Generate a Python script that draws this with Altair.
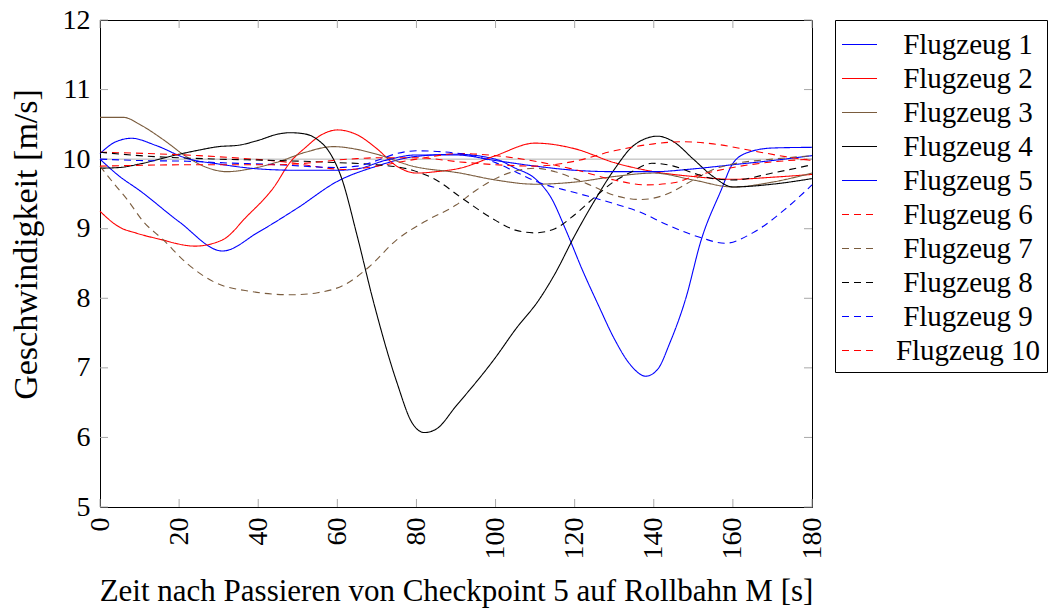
import altair as alt
import pandas as pd

names = [f"Flugzeug {i}" for i in range(1, 11)]
colors = ["#0000ff", "#ff0000", "#7a5c3e", "#000000", "#0000ff",
          "#ff0000", "#7a5c3e", "#000000", "#0000ff", "#ff0000"]
dashes = [[1, 0]] * 5 + [[7, 5]] * 5

# Flugzeug 1 (blue, dips at 30 s and 138 s)
f1_t = [0, 5, 10, 20, 31, 40, 50, 60, 70, 80, 90, 100, 105, 110, 114, 118, 122, 126, 130, 134,
        138, 141, 144, 148, 152, 157, 160, 164, 170, 180]
f1_v = [10.0, 9.75, 9.55, 9.1, 8.68, 8.95, 9.3, 9.68, 9.9, 10.04, 10.07, 10.0, 9.87, 9.72, 9.45, 8.95,
        8.4, 7.9, 7.42, 7.05, 6.88, 6.98, 7.35, 7.98, 8.84, 9.55, 9.94, 10.1, 10.16, 10.17]
# Flugzeug 2 (red)
f2_t = [0, 5, 9, 15, 24, 31, 37, 44, 48, 52, 56, 60, 65, 70, 75, 80, 85, 91, 100, 110, 120, 130,
        140, 150, 160, 170, 180]
f2_v = [9.25, 9.02, 8.94, 8.85, 8.75, 8.84, 9.17, 9.6, 9.95, 10.17, 10.35, 10.42, 10.35, 10.15, 9.9,
        9.8, 9.82, 9.87, 10.05, 10.23, 10.15, 9.95, 9.82, 9.75, 9.71, 9.74, 9.78]
# Flugzeug 3 (brown)
f3_t = [0, 6, 10, 16, 22, 27, 32, 38, 45, 52, 59, 65, 70, 79, 91, 100, 110, 120, 130, 140, 150,
        160, 170, 180]
f3_v = [10.6, 10.6, 10.5, 10.28, 10.03, 9.88, 9.82, 9.86, 9.96, 10.1, 10.18, 10.14, 10.07, 9.9, 9.8,
        9.7, 9.64, 9.67, 9.75, 9.8, 9.7, 9.6, 9.67, 9.8]
# Flugzeug 4 (black)
f4_t = [0, 5, 10, 20, 25, 30, 35, 40, 45, 48, 52, 55, 58, 61, 65, 69, 75, 79, 82, 85, 90, 100, 105,
        111, 115, 120, 125, 130, 135, 141, 145, 150, 155, 160, 170, 180]
f4_v = [9.87, 9.88, 9.93, 10.07, 10.13, 10.18, 10.2, 10.27, 10.36, 10.38, 10.36, 10.28, 10.1, 9.74,
        8.9, 7.98, 6.8, 6.2, 6.07, 6.12, 6.45, 7.15, 7.55, 7.98, 8.35, 8.9, 9.4, 9.85, 10.2, 10.33,
        10.25, 10.0, 9.75, 9.6, 9.64, 9.72]
# Flugzeug 5 (blue)
f5_t = [0, 4, 8, 14, 22, 30, 40, 50, 60, 65, 72, 80, 90, 100, 110, 120, 130, 140, 150, 160, 170, 180]
f5_v = [10.08, 10.25, 10.3, 10.2, 10.01, 9.93, 9.86, 9.84, 9.84, 9.86, 9.98, 10.06, 10.06, 9.98, 9.9,
        9.84, 9.82, 9.82, 9.86, 9.92, 9.98, 10.05]
# Flugzeug 6 (red dashed)
f6_t = [0, 25, 45, 63, 70, 80, 91, 100, 110, 120, 130, 138, 145, 150, 160, 170, 180]
f6_v = [10.1, 10.05, 9.97, 9.85, 9.9, 10.0, 10.08, 10.05, 9.97, 9.85, 9.7, 9.63, 9.66, 9.75, 9.88,
        9.96, 10.0]
# Flugzeug 7 (brown dashed)
f7_t = [0, 3.5, 7, 11, 16, 22, 29, 38, 48.5, 55, 62, 68, 75, 82, 90, 95, 100, 105, 110, 115, 120,
        125, 130, 137, 142, 150, 155, 160, 170, 180]
f7_v = [9.9, 9.65, 9.41, 9.1, 8.84, 8.5, 8.23, 8.1, 8.05, 8.08, 8.2, 8.45, 8.84, 9.1, 9.34, 9.55,
        9.72, 9.83, 9.87, 9.82, 9.72, 9.6, 9.48, 9.42, 9.47, 9.7, 9.85, 9.93, 10.0, 10.05]
# Flugzeug 8 (black dashed)
f8_t = [0, 10, 20, 30, 45, 60, 70, 79, 85, 91, 100, 105, 110, 115, 120, 125, 130, 134.5, 139.5, 145,
        150, 155, 160, 170, 180]
f8_v = [10.1, 10.05, 10.02, 10.0, 9.98, 9.95, 9.92, 9.84, 9.7, 9.46, 9.12, 8.98, 8.94, 9.0, 9.2, 9.45,
        9.68, 9.82, 9.94, 9.9, 9.8, 9.72, 9.7, 9.8, 9.92]
# Flugzeug 9 (blue dashed)
f9_t = [0, 10, 22, 30, 45, 60, 65, 70, 75, 80, 91, 100, 105, 110.7, 120, 130, 136.5, 143.6, 152, 158,
        165, 173, 180]
f9_v = [10.0, 9.98, 9.97, 9.95, 9.92, 9.88, 9.9, 9.98, 10.08, 10.12, 10.08, 9.95, 9.82, 9.67, 9.52,
        9.36, 9.24, 9.05, 8.87, 8.79, 8.94, 9.27, 9.63]
# Flugzeug 10 (red dashed)
f10_t = [0, 25, 45, 63, 70, 80, 91, 100, 110, 120, 130, 140, 147, 155, 165, 175, 180]
f10_v = [9.9, 9.92, 9.92, 10.0, 10.02, 10.02, 9.96, 9.92, 9.9, 9.97, 10.12, 10.22, 10.25, 10.22,
         10.12, 10.02, 9.98]

x_ticks = list(range(0, 181, 20))
y_ticks = list(range(5, 13))
grid_y = [10]

series_t = [f1_t, f2_t, f3_t, f4_t, f5_t, f6_t, f7_t, f8_t, f9_t, f10_t]
series_v = [f1_v, f2_v, f3_v, f4_v, f5_v, f6_v, f7_v, f8_v, f9_v, f10_v]

rows = []
for name, ts, vs in zip(names, series_t, series_v):
    for t, v in zip(ts, vs):
        rows.append({"Flugzeug": name, "t": t, "v": v})
df = pd.DataFrame(rows)

W, H = 712, 487
FONT = "Liberation Serif"

legend = alt.Legend(
    title=None, orient="none", legendX=735, legendY=0,
    symbolType="stroke", symbolSize=1225, symbolStrokeWidth=1.1,
    labelFont=FONT, labelFontSize=29, labelColor="black",
    labelAlign="center", labelOffset=90, rowPadding=0, padding=6,
    strokeColor="black", fillColor="white", cornerRadius=0, labelLimit=300,
)

xscale = alt.Scale(domain=[0, 180], nice=False, zero=False)
yscale = alt.Scale(domain=[5, 12], nice=False, zero=False)

xaxis = alt.Axis(
    values=x_ticks, title="Zeit nach Passieren von Checkpoint 5 auf Rollbahn M [s]",
    labelAngle=-90, labelAlign="right", labelBaseline="middle", labelPadding=10,
    labelFont=FONT, labelFontSize=28, labelColor="black",
    titleFont=FONT, titleFontSize=31, titleFontWeight="normal", titleColor="black",
    titleX=356, titleY=93, titleBaseline="alphabetic", titleAlign="center",
    ticks=False, domain=False, grid=False, labelFlush=False, labelOverlap=False)
yaxis = alt.Axis(
    values=y_ticks, title="Geschwindigkeit [m/s]",
    labelPadding=10, labelFont=FONT, labelFontSize=28, labelColor="black",
    labelBaseline="middle",
    titleFont=FONT, titleFontSize=34, titleFontWeight="normal", titleColor="black",
    titleX=-74, titleY=224, titleAngle=-90, titleBaseline="middle", titleAlign="center",
    ticks=False, domain=False, grid=False, labelFlush=False, labelOverlap=False)

grid = alt.Chart(pd.DataFrame({"t": [0], "v": grid_y})).mark_rule(color="#b0b0b0", strokeWidth=1).encode(
    y=alt.Y("v:Q", scale=yscale, axis=yaxis)
)

lines = alt.Chart(df).mark_line(strokeWidth=1.1, interpolate="monotone").encode(
    x=alt.X("t:Q", scale=xscale, axis=xaxis),
    y=alt.Y("v:Q", scale=yscale, axis=yaxis),
    color=alt.Color("Flugzeug:N", scale=alt.Scale(domain=names, range=colors), legend=legend,
                    sort=names),
    strokeDash=alt.StrokeDash("Flugzeug:N", scale=alt.Scale(domain=names, range=dashes),
                              legend=legend, sort=names),
)

tx = pd.DataFrame({"t": x_ticks})
ty = pd.DataFrame({"v": y_ticks})
TL = 8
tick_style = dict(color="#a8a8a8", strokeWidth=1)
xb = alt.Chart(tx).mark_rule(**tick_style).encode(
    x=alt.X("t:Q", scale=xscale, axis=xaxis), y=alt.value(H), y2=alt.value(H - TL))
xt = alt.Chart(tx).mark_rule(**tick_style).encode(
    x=alt.X("t:Q", scale=xscale, axis=xaxis), y=alt.value(0), y2=alt.value(TL))
yl = alt.Chart(ty).mark_rule(**tick_style).encode(
    y=alt.Y("v:Q", scale=yscale, axis=yaxis), x=alt.value(0), x2=alt.value(TL))
yr = alt.Chart(ty).mark_rule(**tick_style).encode(
    y=alt.Y("v:Q", scale=yscale, axis=yaxis), x=alt.value(W), x2=alt.value(W - TL))

chart = alt.layer(grid, xb, xt, yl, yr, lines).properties(
    width=W, height=H,
    autosize=alt.AutoSizeParams(type="none"),
    padding={"left": 100, "top": 20, "right": 242, "bottom": 103},
).configure(
    background="white",
    view=alt.ViewConfig(stroke="black", strokeWidth=1),
)

chart.save("out.html", embed_options={"renderer": "svg", "actions": False})
